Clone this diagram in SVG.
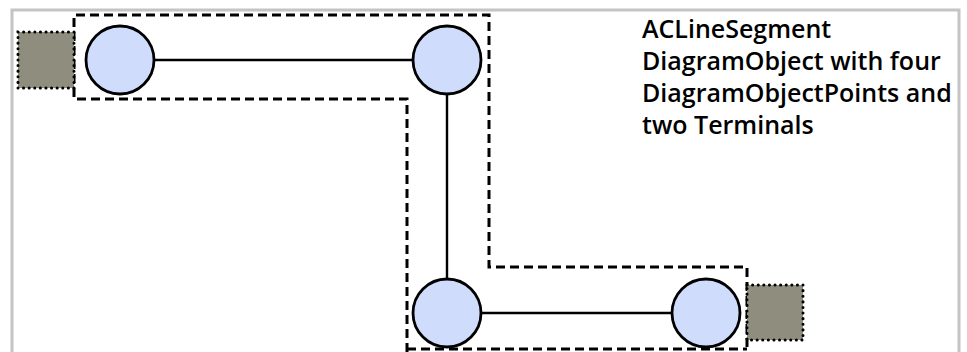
<svg xmlns="http://www.w3.org/2000/svg" width="967" height="352" viewBox="0 0 967 352">
<style>
.frame{fill:#fff;stroke:#c4c4c4;stroke-width:3}
.dp{fill:#cfdcfb;stroke:#000;stroke-width:2.8}
.term{fill:#8e8d7e;stroke:#000;stroke-width:3;stroke-dasharray:0.1 5.5;stroke-linecap:round}
.conn{stroke:#000;stroke-width:2.4;fill:none}
.obj{fill:none;stroke:#000;stroke-width:3;stroke-dasharray:9 5}
.t{font-family:"Open Sans","DejaVu Sans",sans-serif;font-size:25px;font-weight:600;fill:#000}
</style>
<rect class="frame" x="12" y="10" width="947" height="350"/>
<g id="diagramObject">
<path class="obj" d="M407,352 V99 H74 V15 H489 V267 H747 V352 M407,349 H747"/>
</g>
<g id="connectors">
<line class="conn" x1="154" y1="60" x2="413" y2="60"/>
<line class="conn" x1="447" y1="94" x2="447" y2="279"/>
<line class="conn" x1="481" y1="313" x2="672" y2="313"/>
</g>
<g id="terminal1"><rect class="term" x="18" y="32" width="56" height="56"/></g>
<g id="terminal2"><rect class="term" x="747" y="285" width="56" height="55"/></g>
<g id="point1"><circle class="dp" cx="120" cy="60" r="34"/></g>
<g id="point2"><circle class="dp" cx="447" cy="60" r="34"/></g>
<g id="point3"><circle class="dp" cx="447" cy="313" r="34"/></g>
<g id="point4"><circle class="dp" cx="706" cy="313" r="34"/></g>
<g id="label">
<text class="t" x="642" y="38" font-weight="700">ACLineSegment</text>
<text class="t" x="642" y="70">DiagramObject with four</text>
<text class="t" x="642" y="102">DiagramObjectPoints and</text>
<text class="t" x="642" y="134">two Terminals</text>
</g>
</svg>
